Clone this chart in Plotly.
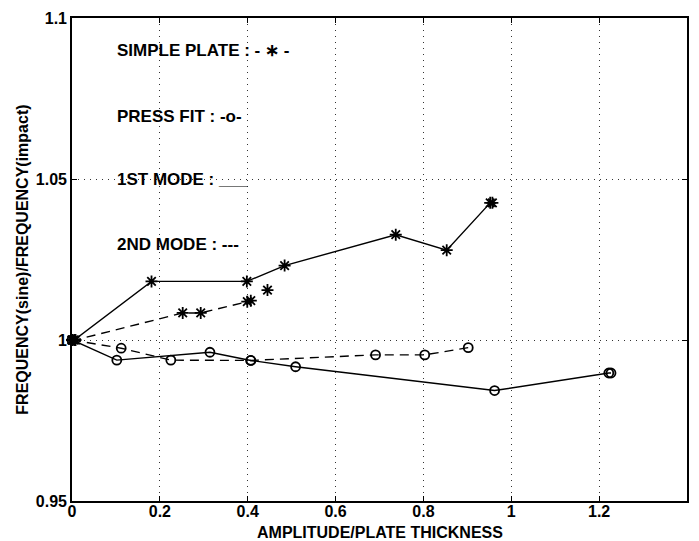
import plotly.graph_objects as go

# Simple plate, 1st mode (solid, stars)
sp1_x = [0.0, 0.005, 0.181, 0.398, 0.484, 0.737, 0.853, 0.952, 0.957]
sp1_y = [1.0, 1.0, 1.0182, 1.0182, 1.0231, 1.0327, 1.0279, 1.0426, 1.0426]
# Simple plate, 2nd mode (dashed, stars)
sp2_x = [0.0, 0.008, 0.252, 0.293, 0.399, 0.407]
sp2_y = [1.0, 1.0, 1.0084, 1.0084, 1.0119, 1.0122]
sp2_extra_x = [0.445]
sp2_extra_y = [1.0155]
# Press fit, 1st mode (solid, circles)
pf1_x = [0.0, 0.102, 0.314, 0.407, 0.509, 0.962, 1.222, 1.227]
pf1_y = [1.0, 0.99375, 0.9962, 0.99365, 0.9917, 0.9843, 0.98975, 0.98975]
# Press fit, 2nd mode (dashed, circles)
pf2_x = [0.0, 0.112, 0.225, 0.407, 0.691, 0.803, 0.902]
pf2_y = [1.0, 0.99745, 0.99375, 0.99365, 0.99538, 0.99538, 0.99763]

x_ticks = [0, 0.2, 0.4, 0.6, 0.8, 1, 1.2]
x_ticklabels = ["0", "0.2", "0.4", "0.6", "0.8", "1", "1.2"]
y_ticks = [0.95, 1.0, 1.05, 1.1]
y_ticklabels = ["0.95", "1", "1.05", "1.1"]

notes = ["SIMPLE PLATE : - \u2217 -", "PRESS FIT : -o-", "1ST MODE : ___", "2ND MODE : ---"]
notes_y = [1.0898, 1.0695, 1.05, 1.0298]
notes_x = 0.097

FAM = "Liberation Sans, Arial, sans-serif"
FONT = dict(family=FAM, size=16, color="black", weight="bold")
NOTE_FONT = dict(family=FAM, size=17, color="black", weight="bold")

fig = go.Figure()

def add(x, y, dash, symbol, size, mode="lines+markers"):
    fig.add_trace(go.Scatter(
        x=x, y=y, mode=mode,
        line=dict(color="black", width=1.4, dash=dash),
        marker=dict(symbol=symbol, size=size, color="black",
                    line=dict(color="black", width=1.8)),
        showlegend=False, cliponaxis=False))

add(sp1_x, sp1_y, "solid", "asterisk-open", 10)
add(sp2_x, sp2_y, "9px,6px", "asterisk-open", 10)
add(sp2_extra_x, sp2_extra_y, "solid", "asterisk-open", 10, mode="markers")
add(pf1_x, pf1_y, "solid", "circle-open", 9)
add(pf2_x, pf2_y, "9px,6px", "circle-open", 9)

for t, yy in zip(notes, notes_y):
    fig.add_annotation(x=notes_x, y=yy, text=t, showarrow=False,
                       xanchor="left", yanchor="middle", font=NOTE_FONT)

fig.add_annotation(xref="paper", yref="paper", x=0.5, y=-0.043,
                   text="AMPLITUDE/PLATE THICKNESS", showarrow=False,
                   xanchor="center", yanchor="top", font=FONT)
fig.add_annotation(xref="paper", yref="paper", x=-0.081, y=0.5,
                   text="FREQUENCY(sine)/FREQUENCY(impact)", showarrow=False,
                   textangle=-90, xanchor="center", yanchor="middle", font=FONT)

axis_common = dict(showline=True, linecolor="black", linewidth=1.6, mirror="ticks",
                   ticks="inside", ticklen=5, tickcolor="black", tickwidth=1,
                   showgrid=True, gridcolor="#333333", gridwidth=1, griddash="1px,5px",
                   zeroline=False, tickfont=FONT)

fig.update_xaxes(range=[0, 1.4], tickvals=x_ticks, ticktext=x_ticklabels,
                 ticklabelstandoff=-5, **axis_common)
fig.update_yaxes(range=[0.95, 1.1], tickvals=y_ticks, ticktext=y_ticklabels, **axis_common)

fig.update_layout(width=699, height=541, margin=dict(l=72, r=10, t=14, b=40),
                  plot_bgcolor="white", paper_bgcolor="white")

fig.write_html("out.html")
